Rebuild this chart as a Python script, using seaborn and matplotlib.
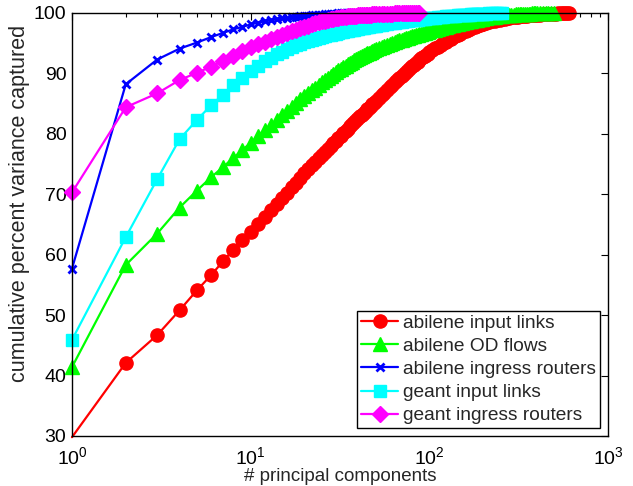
import matplotlib
matplotlib.use("Agg")
import matplotlib.pyplot as plt
from matplotlib.lines import Line2D
from matplotlib.ticker import LogLocator, NullFormatter, FixedLocator
import seaborn as sns

# number of principal components at which each cumulative value is recorded
ncomp = [
    1, 2, 3, 4, 5, 6, 7, 8, 9, 10, 11, 12, 13, 14, 15, 16, 17, 18, 19, 20,
    21, 22, 23, 24, 25, 26, 27, 28, 29, 30, 31, 32, 33, 34, 35, 36, 37, 38, 39, 40,
    41, 42, 43, 44, 45, 46, 47, 48, 49, 50,
    52, 54, 56, 58, 60, 62, 64, 66, 68, 70, 72, 74, 76, 78, 80, 82, 84, 86, 88, 90,
    92, 94, 96, 98, 100,
    104, 108, 112, 116, 120, 124, 128, 132, 136, 140, 144, 148, 152, 156, 160, 164,
    168, 172, 176, 180, 184, 188, 192, 196, 200,
    208, 216, 224, 232, 240, 248, 256, 264, 272, 280, 288, 296, 304, 312, 320, 328,
    336, 344, 352, 360, 368, 376, 384, 392, 400,
    416, 432, 448, 464, 480, 496, 512, 528, 544, 560, 576, 592, 608,
]

abilene_input_links = [
    29.8, 42.1, 46.7, 50.8, 54.1, 56.6, 58.9, 60.8, 62.4, 63.8,
    65.1, 66.3, 67.4, 68.4, 69.38, 70.28, 71.12, 71.92, 72.7, 73.45,
    74.15, 74.77, 75.36, 75.92, 76.47, 76.99, 77.49, 77.97, 78.44, 78.89,
    79.32, 79.72, 80.11, 80.49, 80.86, 81.22, 81.57, 81.91, 82.24, 82.56,
    82.88, 83.18, 83.48, 83.77, 84.06, 84.34, 84.61, 84.88, 85.14, 85.4,
    85.89, 86.37, 86.83, 87.27, 87.7, 88.11, 88.51, 88.9, 89.27, 89.64,
    89.96, 90.27, 90.57, 90.86, 91.15, 91.43, 91.7, 91.96, 92.22, 92.48,
    92.69, 92.89, 93.1, 93.29, 93.49,
    93.83, 94.15, 94.45, 94.74, 95.01, 95.27, 95.52, 95.76, 95.99, 96.2,
    96.4, 96.59, 96.77, 96.94, 97.1, 97.25, 97.39, 97.52, 97.64, 97.75,
    97.85, 97.95, 98.04, 98.13, 98.21,
    98.36, 98.5, 98.62, 98.73, 98.83, 98.92, 99.0, 99.07, 99.14, 99.2,
    99.26, 99.31, 99.36, 99.4, 99.44, 99.48, 99.51, 99.54, 99.57, 99.6,
    99.62, 99.64, 99.66, 99.68, 99.7,
    99.73, 99.76, 99.79, 99.82, 99.85, 99.87, 99.9, 99.92, 99.94, 99.96,
    99.98, 99.99, 100.0,
]

abilene_od_flows = [
    41.4, 58.3, 63.5, 67.8, 70.6, 72.8, 74.5, 76.0, 77.3, 78.5,
    79.6, 80.6, 81.5, 82.3, 83.1, 83.8, 84.5, 85.1, 85.7, 86.2,
    86.7, 87.2, 87.65, 88.1, 88.5, 88.9, 89.25, 89.6, 89.92, 90.22,
    90.5, 90.77, 91.03, 91.28, 91.52, 91.75, 91.97, 92.18, 92.36, 92.52,
    92.68, 92.85, 93.01, 93.16, 93.31, 93.45, 93.59, 93.72, 93.85, 93.97,
    94.2, 94.38, 94.55, 94.72, 94.88, 95.03, 95.18, 95.32, 95.45, 95.58,
    95.7, 95.82, 95.93, 96.04, 96.14, 96.24, 96.34, 96.43, 96.52, 96.6,
    96.68, 96.76, 96.84, 96.91, 96.98,
    97.12, 97.26, 97.39, 97.51, 97.63, 97.74, 97.85, 97.95, 98.05, 98.14,
    98.23, 98.31, 98.39, 98.47, 98.54, 98.61, 98.68, 98.74, 98.8, 98.86,
    98.92, 98.97, 99.02, 99.07, 99.12,
    99.2, 99.27, 99.34, 99.4, 99.46, 99.51, 99.56, 99.6, 99.64, 99.68,
    99.71, 99.74, 99.77, 99.79, 99.81, 99.83, 99.85, 99.87, 99.88, 99.9,
    99.91, 99.92, 99.93, 99.94, 99.95,
    99.96, 99.97, 99.98, 99.99, 100.0, 100.0,
]

abilene_ingress_routers = [
    57.7, 88.2, 92.3, 94.1, 95.1, 96.0, 96.7, 97.3, 97.7, 98.1,
    98.4, 98.6, 98.8, 98.95, 99.1, 99.2, 99.3, 99.4, 99.45, 99.5,
    99.55, 99.6, 99.65, 99.7, 99.74, 99.78, 99.81, 99.84, 99.87, 99.9,
    99.92, 99.94, 99.96, 99.98, 99.99, 100.0,
]

geant_input_links = [
    45.9, 62.9, 72.5, 79.1, 82.3, 84.7, 86.5, 88.0, 89.3, 90.4,
    91.3, 92.0, 92.6, 93.15, 93.6, 94.0, 94.35, 94.65, 94.9, 95.15,
    95.35, 95.55, 95.72, 95.88, 96.03, 96.16, 96.28, 96.4, 96.5, 96.6,
    96.7, 96.79, 96.88, 96.96, 97.04, 97.12, 97.19, 97.26, 97.33, 97.4,
    97.46, 97.52, 97.58, 97.63, 97.68, 97.73, 97.78, 97.83, 97.88, 97.92,
    98.0, 98.08, 98.15, 98.22, 98.29, 98.35, 98.41, 98.47, 98.52, 98.57,
    98.62, 98.67, 98.72, 98.76, 98.8, 98.84, 98.88, 98.92, 98.96, 99.0,
    99.03, 99.06, 99.09, 99.12, 99.15,
    99.2, 99.25, 99.3, 99.34, 99.38, 99.42, 99.46, 99.5, 99.53, 99.56,
    99.59, 99.62, 99.65, 99.67, 99.7, 99.72, 99.74, 99.76, 99.78, 99.8,
    99.82, 99.84, 99.86, 99.87, 99.88,
    99.91, 99.93, 99.95, 99.97, 99.98, 99.99, 100.0,
]

geant_ingress_routers = [
    70.3, 84.4, 86.7, 88.9, 90.1, 91.1, 92.1, 92.9, 93.7, 94.3,
    94.8, 95.25, 95.65, 96.0, 96.35, 96.65, 96.95, 97.2, 97.45, 97.7,
    97.9, 98.1, 98.3, 98.45, 98.6, 98.75, 98.88, 99.0, 99.08, 99.15,
    99.22, 99.28, 99.33, 99.38, 99.42, 99.46, 99.5, 99.53, 99.56, 99.6,
    99.62, 99.64, 99.66, 99.68, 99.7, 99.72, 99.74, 99.76, 99.78, 99.8,
    99.82, 99.84, 99.86, 99.88, 99.9, 99.91, 99.92, 99.93, 99.94, 99.95,
    99.96, 99.97, 99.97, 99.98, 99.98, 99.99, 99.99, 100.0, 100.0,
]

labels = [
    "abilene input links",
    "abilene OD flows",
    "abilene ingress routers",
    "geant input links",
    "geant ingress routers",
]
ytick_values = [30, 40, 50, 60, 70, 80, 90, 100]

sns.set_theme(style="white")
plt.rcParams.update({
    "font.family": ["Liberation Sans", "DejaVu Sans"],
    "mathtext.fontset": "custom",
    "mathtext.rm": "Liberation Sans",
    "mathtext.it": "Liberation Sans:italic",
    "mathtext.bf": "Liberation Sans:bold",
    "font.size": 13.5,
    "axes.edgecolor": "black",
    "axes.linewidth": 1.0,
    "xtick.color": "black",
    "ytick.color": "black",
})

fig, ax = plt.subplots(figsize=(6.33, 4.86), dpi=100)
fig.subplots_adjust(left=0.1137, right=0.9605, top=0.9733, bottom=0.1029)

styles = [
    (abilene_input_links, "#ff0000", "o", 9.5, 1.0),
    (abilene_od_flows, "#00ff00", "^", 10.0, 1.0),
    (abilene_ingress_routers, "#0000ff", "x", 6.0, 2.0),
    (geant_input_links, "#00ffff", "s", 8.0, 1.0),
    (geant_ingress_routers, "#ff00ff", "D", 8.5, 1.0),
]

handles = []
for (vals, color, marker, ms, mew), label in zip(styles, labels):
    x = ncomp[:len(vals)]
    shown = [i for i, v in enumerate(vals) if v >= ytick_values[0]]
    sns.lineplot(
        x=x, y=vals, ax=ax, color=color, linewidth=1.6,
        marker=marker, markersize=ms, markeredgewidth=mew,
        markeredgecolor=color, markerfacecolor=color,
        markevery=shown, sort=False, estimator=None, clip_on=False,
        legend=False,
    )
    handles.append(Line2D([], [], color=color, linewidth=1.6, marker=marker,
                          markersize=ms, markeredgewidth=mew,
                          markeredgecolor=color, markerfacecolor=color,
                          label=label))

ax.set_xscale("log")
ax.set_xlim(1, 1000)
ax.set_ylim(30, 100)
ax.yaxis.set_major_locator(FixedLocator(ytick_values))
ax.xaxis.set_major_locator(LogLocator(base=10, numticks=10))
ax.xaxis.set_minor_locator(LogLocator(base=10, subs=range(2, 10), numticks=50))
ax.xaxis.set_minor_formatter(NullFormatter())

ax.tick_params(axis="both", which="both", direction="in", top=True, right=True,
               labelsize=14, width=0.8)
ax.tick_params(axis="both", which="major", length=5)
ax.tick_params(axis="y", which="major", pad=4)
ax.tick_params(axis="x", which="major", pad=7)
ax.tick_params(axis="x", which="minor", length=3)

for sp in ax.spines.values():
    sp.set_color("black")
    sp.set_linewidth(1.0)

ax.set_xlabel("# principal components", fontsize=13.5, labelpad=0)
ax.set_ylabel("cumulative percent variance captured", fontsize=15.5)
ax.yaxis.set_label_coords(-0.078, 0.55)

leg = ax.legend(handles=handles, loc="lower right", fontsize=13.8,
                frameon=True, fancybox=False, shadow=False, framealpha=1,
                edgecolor="black", borderaxespad=0.4, borderpad=0.2,
                labelspacing=0.3, handlelength=1.9, handletextpad=0.3,
                numpoints=1)
leg.get_frame().set_linewidth(1.0)

fig.savefig("out.png", dpi=100)
